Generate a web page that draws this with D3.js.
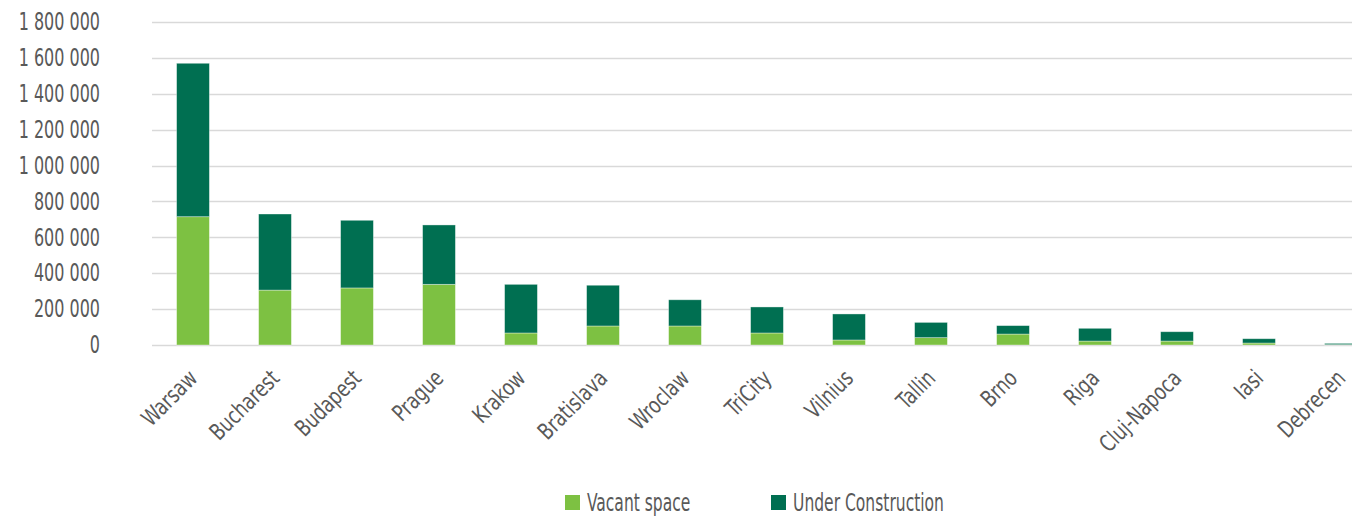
<!DOCTYPE html>
<html lang="en">
<head>
<meta charset="UTF-8" />
<title>Vacant and under construction space</title>
<script src="https://cdn.jsdelivr.net/npm/d3@7"></script>
<style>
  body { margin: 0; background: #fff; }
  svg text { font-family: "DejaVu Sans Condensed", "DejaVu Sans", sans-serif; font-stretch: condensed; fill: #595959; }
</style>
</head>
<body>
<div id="chart"></div>
<script>
// cities, in chart order
var cities = ["Warsaw", "Bucharest", "Budapest", "Prague", "Krakow", "Bratislava", "Wroclaw",
              "TriCity", "Vilnius", "Tallin", "Brno", "Riga", "Cluj-Napoca", "Iasi", "Debrecen"];
// sqm
var vacant = [715000, 306000, 318000, 338000, 67000, 106000, 106000, 67000, 28000, 41000, 61000, 22000, 22000, 11000, 2000];
var underConstruction = [855000, 424000, 377000, 331000, 271000, 227000, 146000, 145000, 145000, 85000, 47000, 71000, 52000, 24000, 7000];
var yTicks = [0, 200000, 400000, 600000, 800000, 1000000, 1200000, 1400000, 1600000, 1800000];
var seriesNames = ["Vacant space", "Under Construction"];
var colors = ["#7dc142", "#006f51"];

var w = 1352, h = 521;
var plotTop = 22, plotBottom = 345, plotLeft = 152;

var svg = d3.select("#chart").append("svg")
  .attr("width", w)
  .attr("height", h);

var rows = cities.map(function(c, i) {
  return { city: c, vacant: vacant[i], uc: underConstruction[i] };
});

var xScale = d3.scaleBand()
  .domain(cities)
  .range([plotLeft, plotLeft + 15 * 82])
  .paddingInner(0.6)
  .paddingOuter(0.3);

var yScale = d3.scaleLinear()
  .domain([0, 1800000])
  .range([plotBottom, plotTop]);

// gridlines
svg.append("g")
  .selectAll("line")
  .data(yTicks)
  .enter().append("line")
  .attr("x1", plotLeft)
  .attr("x2", w)
  .attr("y1", function(d) { return Math.round(yScale(d)) + 0.5; })
  .attr("y2", function(d) { return Math.round(yScale(d)) + 0.5; })
  .attr("stroke", "#d9d9d9")
  .attr("stroke-width", 1.5);

// y labels with space as thousands separator
var fmt = function(d) { return d3.format(",")(d).replace(/,/g, " "); };

var yAxis = d3.axisLeft(yScale).tickValues(yTicks).tickSize(0).tickPadding(0).tickFormat(fmt);
svg.append("g")
  .attr("class", "y-axis")
  .attr("transform", "translate(100,0)")
  .call(yAxis)
  .call(function(g) {
    g.select(".domain").remove();
    g.attr("font-family", null).attr("font-size", null);
    g.selectAll("text")
      .style("font-size", "24px")
      .style("fill", "#595959")
      .attr("x", 0)
      .attr("transform", "scale(0.74,1)");
  });

// stacked bars
var stack = d3.stack().keys(["vacant", "uc"]);
var layers = stack(rows);

svg.selectAll("g.layer")
  .data(layers)
  .enter().append("g")
  .attr("class", "layer")
  .attr("fill", function(d, i) { return colors[i]; })
  .selectAll("rect")
  .data(function(d) { return d; })
  .enter().append("rect")
  .attr("x", function(d) { return xScale(d.data.city); })
  .attr("width", xScale.bandwidth())
  .attr("y", function(d) { return yScale(d[1]); })
  .attr("height", function(d) { return yScale(d[0]) - yScale(d[1]); })
  .attr("stroke", "#ffffff")
  .attr("stroke-opacity", 0.45)
  .attr("stroke-width", 0.8);

// x labels, rotated
var xAxis = d3.axisBottom(xScale).tickSize(0).tickPadding(0);
svg.append("g")
  .attr("class", "x-axis")
  .attr("transform", "translate(0," + plotBottom + ")")
  .call(xAxis)
  .call(function(g) {
    g.select(".domain").remove();
    g.attr("font-family", null).attr("font-size", null);
    g.selectAll("text")
      .style("font-size", "23px")
      .style("fill", "#595959")
      .attr("text-anchor", "end")
      .attr("dy", "0.35em")
      .attr("y", 0)
      .attr("transform", "translate(0,29) rotate(-45) scale(0.84,1)");
  });

// legend
var legendX = [565, 771];
var legend = svg.selectAll("g.legend")
  .data(seriesNames)
  .enter().append("g")
  .attr("class", "legend")
  .attr("transform", function(d, i) { return "translate(" + legendX[i] + ",495)"; });

legend.append("rect")
  .attr("width", 15)
  .attr("height", 15)
  .attr("fill", function(d, i) { return colors[i]; });

legend.append("text")
  .attr("transform", "translate(22,16) scale(0.72,1)")
  .style("font-size", "24px")
  .text(function(d) { return d; });
</script>
</body>
</html>
